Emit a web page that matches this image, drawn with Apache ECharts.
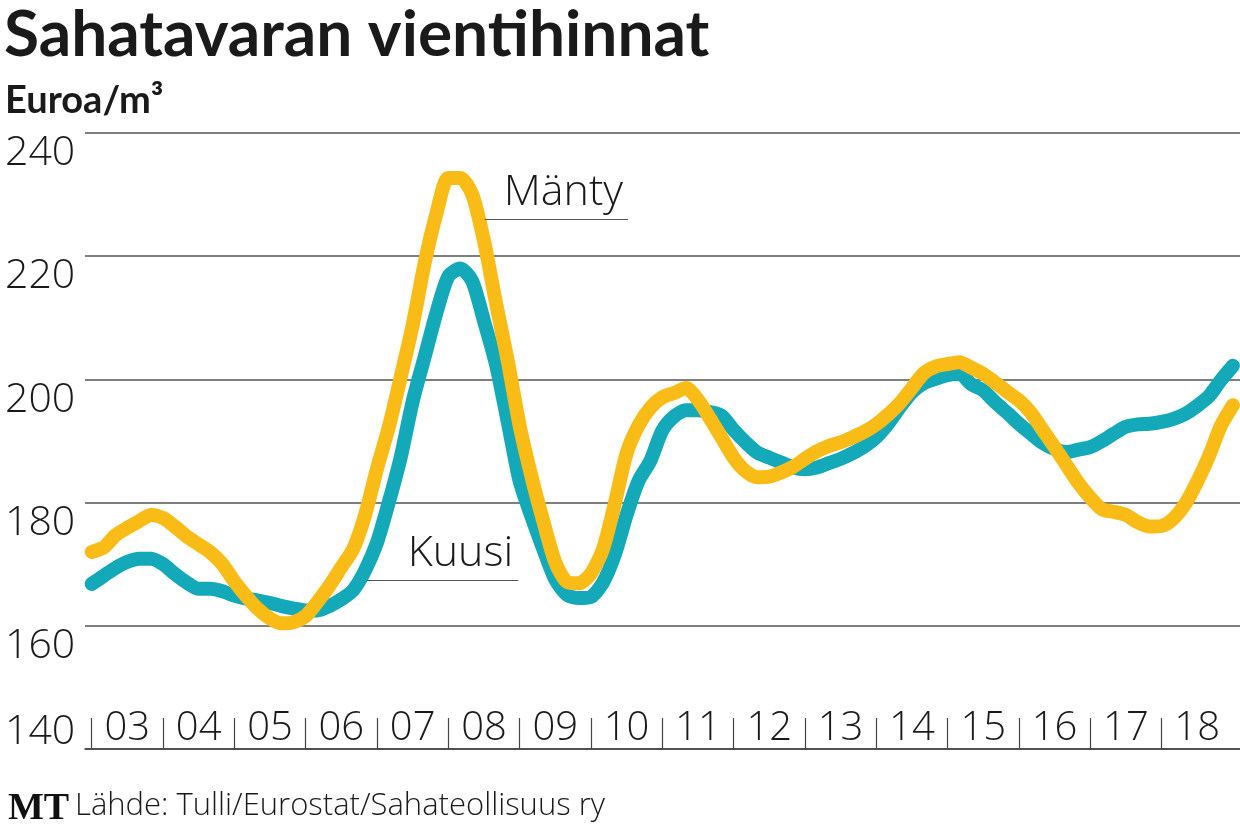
<!DOCTYPE html>
<html>
<head>
<meta charset="utf-8">
<script src="https://cdn.jsdelivr.net/npm/echarts@6/dist/echarts.min.js"></script>
<style>
  html, body { margin: 0; padding: 0; background: #fff; }
  #chart { width: 1240px; height: 832px; }
</style>
</head>
<body>
<div id="chart"></div>
<script>
// Sampling: every 2 months from Jan 2003 (index i -> 2003 + i/6)
const startYear = 2003;
const stepYears = 1 / 6;

const kuusi = [
  166.8, 168.1, 169.4, 170.4, 170.9, 170.9, 170.0, 168.4, 167.0, 166.0, 166.0, 165.6,
  164.9, 164.4, 164.1, 163.7, 163.2, 162.8, 162.5, 162.5, 163.2, 164.3, 165.8, 169.0,
  173.5, 180.1, 187.4, 196.4, 203.6, 210.8, 216.7, 218.0, 216.0, 209.5, 202.5, 193.1,
  183.5, 177.7, 172.4, 167.5, 165.0, 164.5, 164.7, 167.0, 171.5, 178.0, 183.5, 186.8,
  191.7, 194.0, 195.0, 195.0, 194.7, 194.1, 191.8, 189.8, 188.1, 187.3, 186.5, 185.7,
  185.4, 185.7, 186.4, 187.1, 188.0, 189.1, 190.6, 192.8, 195.5, 197.9, 199.4, 200.1,
  200.7, 200.9, 199.2, 198.2, 196.3, 194.6, 192.8, 191.2, 189.7, 188.7, 188.2, 188.6,
  189.0, 190.0, 191.2, 192.3, 192.7, 192.8, 193.1, 193.6, 194.4, 195.7, 197.3, 199.9,
  202.2
];

const manty = [
  172.0, 172.7, 174.7, 175.9, 177.0, 178.0, 177.5, 176.1, 174.5, 173.2, 171.9, 170.0,
  167.2, 164.8, 162.7, 161.2, 160.4, 160.6, 161.6, 163.9, 166.5, 169.5, 172.5, 178.0,
  185.5, 192.3, 200.4, 208.8, 218.8, 226.9, 232.7, 232.7, 230.1, 222.5, 212.5, 203.0,
  192.5, 184.2, 176.9, 170.3, 167.1, 166.9, 168.5, 172.4, 179.8, 188.0, 192.5, 195.4,
  197.1, 197.8, 198.6, 196.7, 193.7, 190.5, 187.3, 185.1, 184.1, 184.2, 184.9, 185.8,
  187.1, 188.3, 189.2, 189.8, 190.6, 191.5, 192.7, 194.3, 196.2, 198.6, 201.0, 202.1,
  202.5, 202.8, 201.9, 200.9, 199.5, 198.0, 196.6, 194.6, 191.8, 189.0, 186.1, 183.2,
  180.8, 178.9, 178.5, 178.0, 176.8, 176.1, 176.2, 177.4, 179.8, 183.4, 187.6, 192.5,
  195.8
];

const yearTicks = [2003, 2004, 2005, 2006, 2007, 2008, 2009, 2010, 2011, 2012, 2013, 2014, 2015, 2016, 2017, 2018];
const yearLabels = ['03', '04', '05', '06', '07', '08', '09', '10', '11', '12', '13', '14', '15', '16', '17', '18'];
const yTicks = [140, 160, 180, 200, 220, 240];

const seriesNames = ['Kuusi', 'Mänty'];
const colors = ['#13a9b9', '#f9bb16'];

const toPairs = arr => arr.map((v, i) => [startYear + i * stepYears, v]);

const LIGHT = "'Open Sans', 'Noto Sans', sans-serif";
const BOLD = "Lato, 'Noto Sans', sans-serif";
const chart = echarts.init(document.getElementById('chart'), null, { renderer: 'canvas' });

chart.setOption({
  animation: false,
  backgroundColor: '#ffffff',
  title: [
    { text: 'Sahatavaran vientihinnat', left: -1, top: -2,
      textStyle: { fontFamily: BOLD, fontWeight: 'bold', fontSize: 64, color: '#1a1a1a' } },
    { text: 'Euroa/m³', left: 0, top: 77,
      textStyle: { fontFamily: BOLD, fontWeight: 'bold', fontSize: 38, color: '#1a1a1a' } },
    { text: 'MT', left: 3, top: 785,
      textStyle: { fontFamily: "'Liberation Serif', 'DejaVu Serif', serif", fontWeight: 'bold', fontSize: 38, color: '#111' } },
    { text: 'Lähde: Tulli/Eurostat/Sahateollisuus ry', left: 70, top: 786,
      textStyle: { fontFamily: LIGHT, fontWeight: 300, fontSize: 31, color: '#1a1a1a' } }
  ],
  grid: { left: 85, right: 0, top: 133, bottom: 83, containLabel: false },
  xAxis: {
    type: 'value',
    min: 2002.906,
    max: 2019.1,
    splitLine: { show: false },
    axisLine: { show: true, lineStyle: { color: '#444', width: 1.5 } },
    axisTick: { show: true, inside: true, length: 31, customValues: yearTicks, lineStyle: { color: '#444', width: 1.2 } },
    axisLabel: {
      show: true, inside: true, margin: 0,
      customValues: yearTicks.map(y => y + 0.5),
      formatter: v => yearLabels[Math.floor(v) - startYear] || '',
      fontFamily: LIGHT, fontWeight: 300, fontSize: 40, color: '#1a1a1a'
    }
  },
  yAxis: [
    {
      type: 'value', min: 140, max: 240, interval: 20,
      axisLine: { show: false }, axisTick: { show: false },
      splitLine: { show: true, lineStyle: { color: '#555', width: 1.5 } },
      axisLabel: {
        margin: 80, align: 'left', verticalAlign: 'top', padding: [0, 0, 0, 0],
        formatter: v => (v === yTicks[0] ? '' : String(v)),
        fontFamily: LIGHT, fontWeight: 300, fontSize: 41, color: '#1a1a1a'
      }
    },
    {
      type: 'value', min: 140, max: 240, interval: 20, position: 'left',
      axisLine: { show: false }, axisTick: { show: false }, splitLine: { show: false },
      axisLabel: {
        margin: 80, align: 'left', verticalAlign: 'bottom', lineHeight: 34,
        formatter: v => (v === yTicks[0] ? String(v) : ''),
        fontFamily: LIGHT, fontWeight: 300, fontSize: 41, color: '#1a1a1a'
      }
    }
  ],
  series: [
    {
      name: seriesNames[0], type: 'line', data: toPairs(kuusi),
      showSymbol: false, smooth: 0.25, z: 2,
      lineStyle: { color: colors[0], width: 14, cap: 'round', join: 'round' },
      markLine: {
        silent: true, symbol: 'none',
        lineStyle: { color: '#555', width: 1.2, type: 'solid' },
        label: { show: true, position: 'insideEndTop', distance: 5, formatter: seriesNames[0],
                 fontFamily: LIGHT, fontWeight: 300, fontSize: 43, color: '#1a1a1a' },
        data: [[{ coord: [2006.86, 167.4] }, { coord: [2008.98, 167.4] }]]
      }
    },
    {
      name: seriesNames[1], type: 'line', data: toPairs(manty),
      showSymbol: false, smooth: 0.25, z: 3,
      lineStyle: { color: colors[1], width: 14, cap: 'round', join: 'round' },
      markLine: {
        silent: true, symbol: 'none',
        lineStyle: { color: '#555', width: 1.2, type: 'solid' },
        label: { show: true, position: 'insideEndTop', distance: 5, formatter: seriesNames[1],
                 fontFamily: LIGHT, fontWeight: 300, fontSize: 43, color: '#1a1a1a' },
        data: [[{ coord: [2008.51, 226.0] }, { coord: [2010.52, 226.0] }]]
      }
    }
  ]
});
</script>
</body>
</html>
